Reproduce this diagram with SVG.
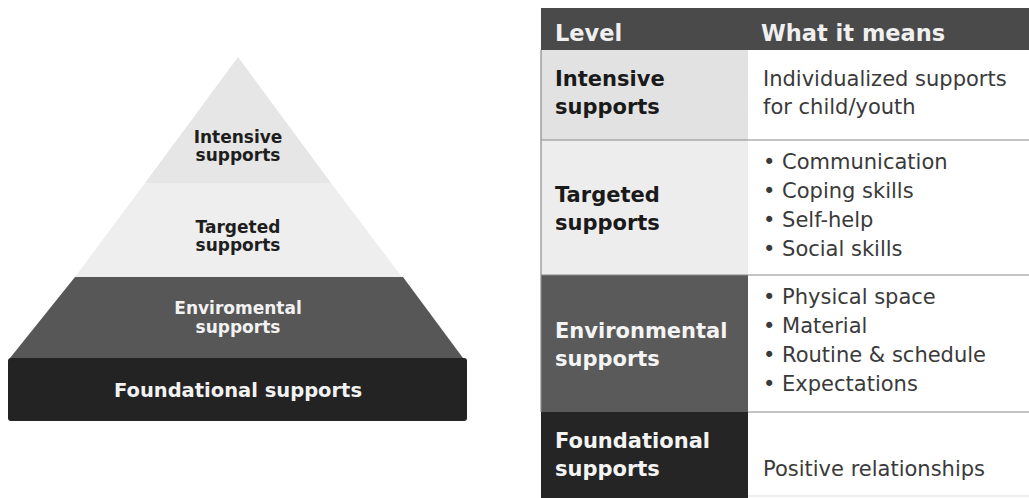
<svg xmlns="http://www.w3.org/2000/svg" width="1029" height="498" viewBox="0 0 1029 498">
<style>
.b{font-family:"DejaVu Sans",Verdana,sans-serif;font-weight:bold}
.r{font-family:"DejaVu Sans",Verdana,sans-serif;fill:#3a3a3a;font-size:21px}
.pd{fill:#1e1e1e;font-size:17px;text-anchor:middle}
.pw{fill:#f2f2f2;font-size:17px;text-anchor:middle}
.td{fill:#1a1a1a;font-size:21px}
.tw{fill:#f4f4f4;font-size:21px}
.sep{stroke:#8a8a8a;stroke-width:1.2}
</style>
<rect width="1029" height="498" fill="#ffffff"/>
<g id="pyramid">
  <g id="p-intensive">
    <path d="M238,57 L331,183 L145,183 Z" fill="#e6e6e6"/>
    <text class="b pd" x="238" y="143">Intensive</text>
    <text class="b pd" x="238" y="161">supports</text>
  </g>
  <g id="p-targeted">
    <path d="M145,183 L331,183 L402,277 L75,277 Z" fill="#eeeeee"/>
    <text class="b pd" x="238" y="233">Targeted</text>
    <text class="b pd" x="238" y="251">supports</text>
  </g>
  <g id="p-environmental">
    <path d="M75,277 L403,277 L463,358 L10,358 Z" fill="#575757"/>
    <text class="b pw" x="238" y="314">Enviromental</text>
    <text class="b pw" x="238" y="333">supports</text>
  </g>
  <g id="p-foundational">
    <rect x="8" y="358" width="459" height="63" rx="3" fill="#232323"/>
    <text class="b pw" x="238" y="397" style="font-size:19.5px">Foundational supports</text>
  </g>
</g>
<g id="table">
  <g id="t-header">
    <rect x="541" y="8" width="488" height="42" fill="#4a4a4a"/>
    <text class="b" x="555" y="41" style="font-size:22.5px;fill:#f0f0f0">Level</text>
    <text class="b" x="761" y="41" style="font-size:22.5px;fill:#f0f0f0">What it means</text>
  </g>
  <g id="t-intensive">
    <rect x="541" y="50" width="207" height="90" fill="#e2e2e2"/>
    <text class="b td" x="555" y="86">Intensive</text>
    <text class="b td" x="555" y="114">supports</text>
    <text class="r" x="763" y="86">Individualized supports</text>
    <text class="r" x="763" y="114">for child/youth</text>
  </g>
  <g id="t-targeted">
    <rect x="541" y="140" width="207" height="135" fill="#ededed"/>
    <text class="b td" x="555" y="202">Targeted</text>
    <text class="b td" x="555" y="230">supports</text>
    <text class="r" x="763" y="169">• Communication</text>
    <text class="r" x="763" y="198">• Coping skills</text>
    <text class="r" x="763" y="227">• Self-help</text>
    <text class="r" x="763" y="256">• Social skills</text>
  </g>
  <g id="t-environmental">
    <rect x="541" y="275" width="207" height="137" fill="#5a5a5a"/>
    <text class="b tw" x="555" y="338">Environmental</text>
    <text class="b tw" x="555" y="366">supports</text>
    <text class="r" x="763" y="304">• Physical space</text>
    <text class="r" x="763" y="333">• Material</text>
    <text class="r" x="763" y="362">• Routine &amp; schedule</text>
    <text class="r" x="763" y="391">• Expectations</text>
  </g>
  <g id="t-foundational">
    <rect x="541" y="412" width="207" height="86" fill="#252525"/>
    <text class="b tw" x="555" y="448">Foundational</text>
    <text class="b tw" x="555" y="476">supports</text>
    <text class="r" x="763" y="476">Positive relationships</text>
  </g>
  <g id="t-lines">
    <line class="sep" x1="541" y1="50" x2="541" y2="412"/>
    <line class="sep" x1="541" y1="140" x2="1029" y2="140"/>
    <line class="sep" x1="541" y1="275" x2="1029" y2="275"/>
    <line class="sep" x1="748" y1="412" x2="1029" y2="412"/>
    <line x1="748" y1="496" x2="1029" y2="496" stroke="#dddddd" stroke-width="1"/>
  </g>
</g>
</svg>
